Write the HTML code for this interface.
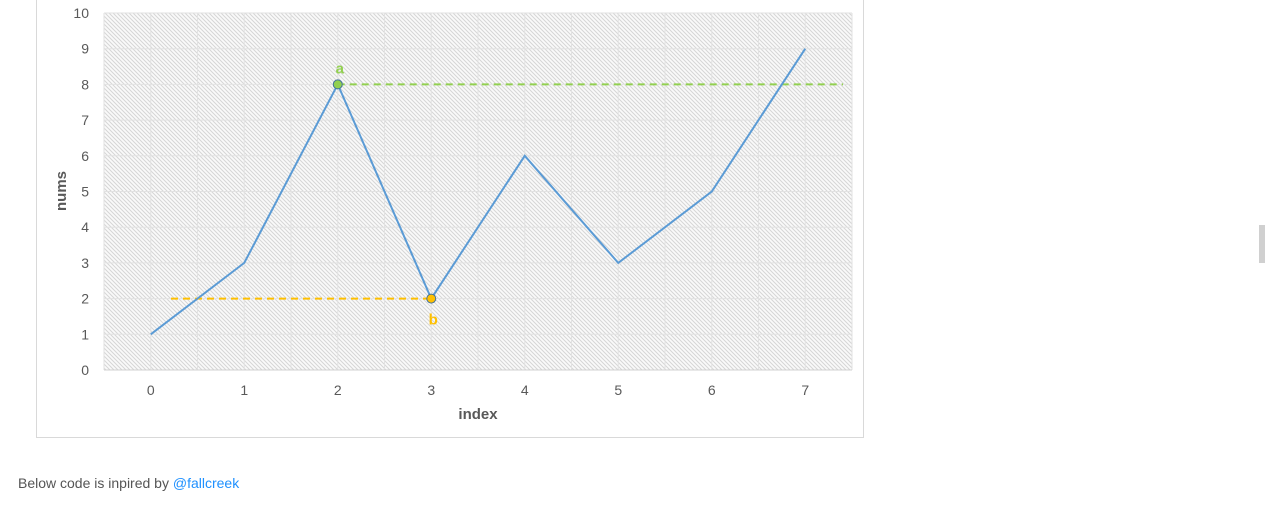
<!DOCTYPE html>
<html><head><meta charset="utf-8"><style>
body{margin:0;width:1265px;height:516px;background:#fff;overflow:hidden;font-family:"Liberation Sans",sans-serif;position:relative}
#box{position:absolute;left:36px;top:-1px;width:826px;height:437px;border:1px solid #d9d9d9}
#caption{position:absolute;left:18px;top:475px;font-size:14px;color:#555}
#caption a{color:#1e90ff;text-decoration:none}
#sb{position:absolute;left:1259px;top:225px;width:6px;height:38px;background:#d0d0d0}
</style></head><body>
<div id="box"></div>
<svg id="chart" width="1265" height="516" style="position:absolute;left:0;top:0">
<defs><pattern id="hatch" width="4" height="4" patternUnits="userSpaceOnUse">
<rect width="4" height="4" fill="#fafafa"/><path d="M-1,-1 L5,5 M-1,3 L1,5 M3,-1 L5,1" stroke="#d6d6d6" stroke-width="1"/></pattern></defs>
</svg>
<div id="caption">Below code is inpired by <a href="#">@fallcreek</a></div>
<div id="sb"></div>
<script>
const categories=[0,1,2,3,4,5,6,7];
const nums=[1,3,8,2,6,3,5,9];
const yTicks=[0,1,2,3,4,5,6,7,8,9,10];
const markA={i:2,v:8,label:"a"};
const markB={i:3,v:2,label:"b"};
const NS="http://www.w3.org/2000/svg";
const svg=document.getElementById('chart');
const L=104,R=852,T=13,B=370,step=(R-L)/categories.length;
const x=i=>L+step*(i+0.5);
const y=v=>B-(v-0)/(10-0)*(B-T);
function el(t,a,p){const e=document.createElementNS(NS,t);for(const k in a)e.setAttribute(k,a[k]);(p||svg).appendChild(e);return e;}
const bg=el('rect',{x:L,y:T,width:R-L,height:B-T,fill:'url(#hatch)'});


for(let k=0;k<=categories.length*2;k++){const gx=L+k*step/2;const g=el('line',{x1:gx,x2:gx,y1:T,y2:B,stroke:'#e2e2e2'});

}
yTicks.forEach(t=>{const g=el('line',{x1:L,x2:R,y1:y(t),y2:y(t),stroke:t===0?'#d0d0d0':'#e2e2e2'});


const tx=el('text',{x:89,y:y(t)+5,'text-anchor':'end','font-size':14,fill:'#595959'});tx.textContent=t;

});
categories.forEach((c,i)=>{const tx=el('text',{x:x(i),y:395,'text-anchor':'middle','font-size':14,fill:'#595959'});tx.textContent=c;

});
const xt=el('text',{x:478,y:419,'text-anchor':'middle','font-size':15,'font-weight':'bold',fill:'#595959'});xt.textContent='index';


const yt=el('text',{x:0,y:0,transform:'translate(66,191) rotate(-90)','text-anchor':'middle','font-size':15,'font-weight':'bold',fill:'#595959'});yt.textContent='nums';


const dg=el('line',{x1:x(markA.i),x2:843,y1:y(markA.v),y2:y(markA.v),stroke:'#92d050','stroke-width':2,'stroke-dasharray':'7,5'});


const dy=el('line',{x1:171,x2:x(markB.i),y1:y(markB.v),y2:y(markB.v),stroke:'#ffc000','stroke-width':2,'stroke-dasharray':'7,5'});


const ln=el('polyline',{points:nums.map((v,i)=>x(i)+','+y(v)).join(' '),fill:'none',stroke:'#5b9bd5','stroke-width':2});


[[markA,'#92d050',-11],[markB,'#ffc000',26]].forEach(([m,c,dyy])=>{
const p=el('circle',{cx:x(m.i),cy:y(m.v),r:4.5,fill:c,stroke:'#41719c','stroke-width':1});


const t=el('text',{x:x(m.i)+2,y:y(m.v)+dyy,'text-anchor':'middle','font-size':15,'font-weight':'bold',fill:c});t.textContent=m.label;

});
</script>
</body></html>
